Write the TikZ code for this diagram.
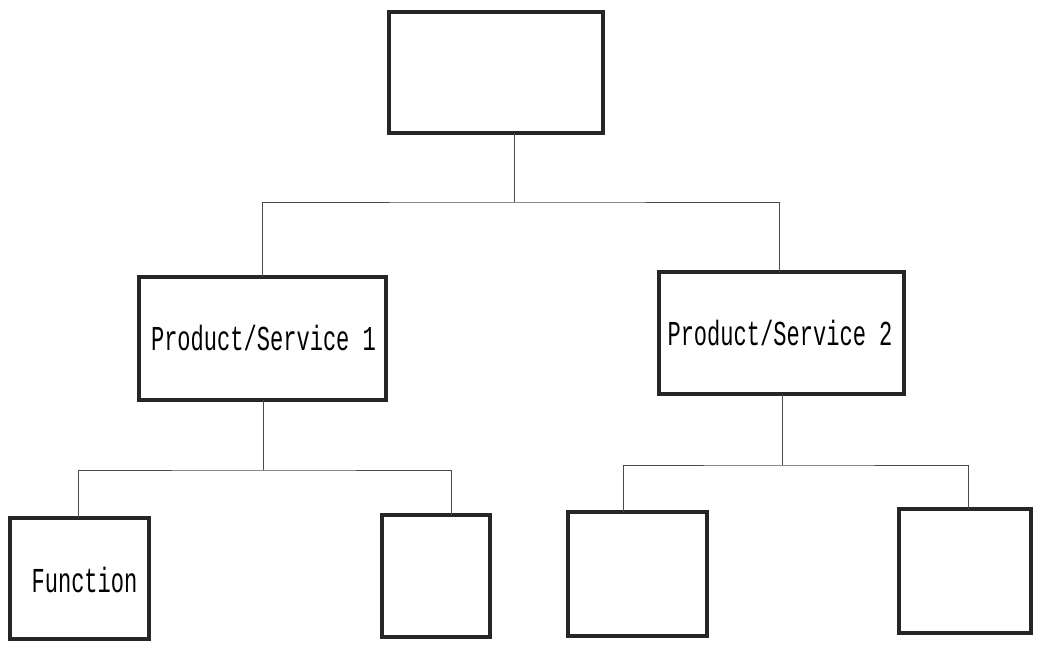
\documentclass[tikz,border=0pt]{standalone}
\usepackage{fontspec}
\newfontfamily\boxfont[FakeStretch=0.63]{Liberation Mono}
\definecolor{boxgray}{HTML}{262626}
\definecolor{linegray}{HTML}{4A4A4A}
\begin{document}
\begin{tikzpicture}[x=1pt,y=-1pt,
  box/.style={draw=boxgray, line width=3.6pt, inner sep=0pt, outer sep=0pt},
  link/.style={draw=linegray, line width=0.9pt},
  lbl/.style={font=\boxfont\fontsize{35}{36}\selectfont, inner sep=0pt, text=black}]
\useasboundingbox (0,0) rectangle (1040,645);
% boxes
\node[box, minimum width=214pt, minimum height=121pt] (top) at (496,72.5) {};
\node[box, minimum width=247pt, minimum height=123pt] (ps1) at (262.5,338.5) {};
\node[box, minimum width=245pt, minimum height=122pt] (ps2) at (781.5,333) {};
\node[box, minimum width=139pt, minimum height=121pt] (f1) at (79.5,578.5) {};
\node[box, minimum width=108pt, minimum height=122pt] (f2) at (436,576) {};
\node[box, minimum width=139pt, minimum height=124pt] (f3) at (637.5,574) {};
\node[box, minimum width=132pt, minimum height=124pt] (f4) at (965,571) {};
% labels
\node[lbl] (t1) at (263.5,338.5) {Product/Service 1};
\node[lbl] (t2) at (780,333) {Product/Service 2};
\node[lbl] (t3) at (84.5,580) {Function};
% junction coordinates
\coordinate (j0) at (514,202);
\coordinate (j1) at (263,470);
\coordinate (j2) at (782,465);
% level 1 connectors
\draw[link] (top.south -| j0) -- (j0);
\draw[link] (ps1.north -| 262,0) |- (j0) -| (ps2.north -| 779,0);
% level 2 connectors
\draw[link] (ps1.south -| j1) -- (j1);
\draw[link] (f1.north -| 78,0) |- (j1) -| (f2.north -| 451,0);
\draw[link] (ps2.south -| j2) -- (j2);
\draw[link] (f3.north -| 623,0) |- (j2) -| (f4.north -| 968,0);
\end{tikzpicture}
\end{document}
